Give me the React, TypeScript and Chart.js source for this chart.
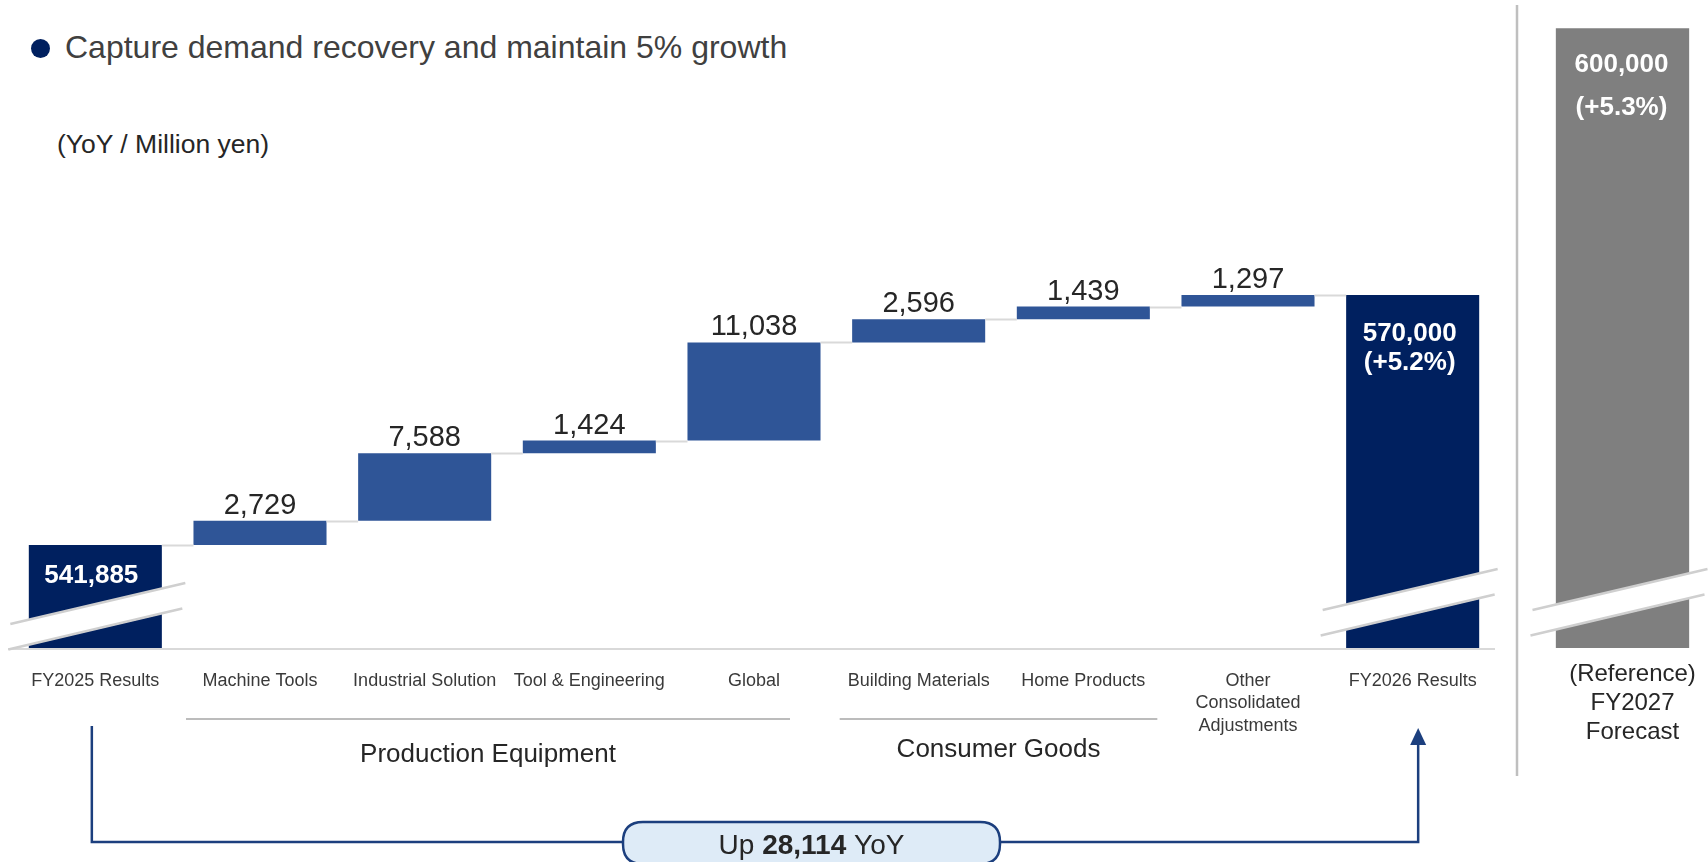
import React, { useEffect, useRef } from "react";
import { Chart, registerables } from "chart.js";

Chart.register(...registerables);

// ---------- data ----------
const categories: string[][] = [
  ["FY2025 Results"],
  ["Machine Tools"],
  ["Industrial Solution"],
  ["Tool & Engineering"],
  ["Global"],
  ["Building Materials"],
  ["Home Products"],
  ["Other", "Consolidated", "Adjustments"],
  ["FY2026 Results"],
];
const startTotal = 541885;
const stepValues = [2729, 7588, 1424, 11038, 2596, 1439, 1297];
const endTotal = 570000;
const endGrowth = "(+5.2%)";
const forecastCategory: string[][] = [["(Reference)", "FY2027", "Forecast"]];
const forecastTotal = 600000;
const forecastGrowth = "(+5.3%)";
const yoyChange = 28114;
const groupNames = ["Production Equipment", "Consumer Goods"];
const groupMembers = [
  [1, 4],
  [5, 6],
];
const axisMin = 530300;
const axisMax = 603174;

// ---------- styles ----------
const FONT = "'Liberation Sans', Arial, Helvetica, sans-serif";
const NAVY = "#00205f";
const STEP_BLUE = "#2f5597";
const GRAY_BAR = "#7f7f7f";
const LINE_GRAY = "#d9d9d9";
const BREAK_GRAY = "#cfcfcf";
const BRACKET = "#1c3f7e";
const TEXT = "#262626";

const fmt = (n: number) => n.toLocaleString("en-US");

function drawBreak(ctx: CanvasRenderingContext2D, cx: number, baseY: number, dx: number, rise: number) {
  const xl = cx + dx;
  const xr = xl + 175;
  const yul = baseY - rise;
  const yur = yul - 41;
  const gap = 25.5;
  ctx.save();
  ctx.fillStyle = "#ffffff";
  ctx.beginPath();
  ctx.moveTo(xl, yul);
  ctx.lineTo(xr, yur);
  ctx.lineTo(xr, yur + gap);
  ctx.lineTo(xl, yul + gap);
  ctx.closePath();
  ctx.fill();
  ctx.strokeStyle = BREAK_GRAY;
  ctx.lineWidth = 2.5;
  ctx.beginPath();
  ctx.moveTo(xl, yul);
  ctx.lineTo(xr, yur);
  ctx.moveTo(xl - 2, yul + gap);
  ctx.lineTo(xr - 3, yur + gap);
  ctx.stroke();
  ctx.restore();
}

function barGeom(el: any) {
  const p = el.getProps(["x", "y", "base", "width"], true);
  return { x: p.x, top: Math.min(p.y, p.base), bottom: Math.max(p.y, p.base), width: p.width };
}

export default function App() {
  const mainRef = useRef<HTMLCanvasElement | null>(null);
  const refRef = useRef<HTMLCanvasElement | null>(null);

  useEffect(() => {
    document.body.style.margin = "0";
    document.body.style.overflow = "hidden";
    Chart.defaults.font.family = FONT;

    const cum: number[] = [startTotal];
    stepValues.forEach((v) => cum.push(cum[cum.length - 1] + v));
    const barData: [number, number][] = [
      [axisMin, startTotal],
      ...stepValues.map((_, i) => [cum[i], cum[i + 1]] as [number, number]),
      [axisMin, endTotal],
    ];
    const colors = barData.map((_, i) => (i === 0 || i === barData.length - 1 ? NAVY : STEP_BLUE));

    const mainPlugin = {
      id: "waterfallDecor",
      afterDatasetsDraw(chart: any) {
        const ctx: CanvasRenderingContext2D = chart.ctx;
        const x = chart.scales.x;
        const y = chart.scales.y;
        const area = chart.chartArea;
        const bars = chart.getDatasetMeta(0).data.map(barGeom);
        const last = bars.length - 1;
        ctx.save();

        // connectors
        ctx.strokeStyle = LINE_GRAY;
        ctx.lineWidth = 2;
        for (let i = 0; i < last; i++) {
          const level = i === last - 1 ? endTotal : cum[i];
          const py = Math.round(y.getPixelForValue(level)) + 0.5;
          ctx.beginPath();
          ctx.moveTo(bars[i].x + bars[i].width / 2, py);
          ctx.lineTo(bars[i + 1].x - bars[i + 1].width / 2, py);
          ctx.stroke();
        }

        // step value labels
        ctx.fillStyle = TEXT;
        ctx.font = `29px ${FONT}`;
        ctx.textAlign = "center";
        ctx.textBaseline = "alphabetic";
        stepValues.forEach((v, i) => {
          const b = bars[i + 1];
          ctx.fillText(fmt(v), b.x, b.top - 7);
        });

        // baseline
        ctx.strokeStyle = LINE_GRAY;
        ctx.lineWidth = 2;
        ctx.beginPath();
        ctx.moveTo(8, area.bottom + 1);
        ctx.lineTo(area.right, area.bottom + 1);
        ctx.stroke();

        // axis breaks
        drawBreak(ctx, bars[0].x, area.bottom, -85, 24);
        drawBreak(ctx, bars[last].x, area.bottom, -90, 38);

        // total labels inside bars
        ctx.fillStyle = "#ffffff";
        ctx.font = `bold 26px ${FONT}`;
        ctx.fillText(fmt(startTotal), bars[0].x - 4, bars[0].top + 38);
        ctx.fillText(fmt(endTotal), bars[last].x - 3, bars[last].top + 46);
        ctx.fillText(endGrowth, bars[last].x - 3, bars[last].top + 75);

        // group underlines + labels
        const groupOffsets = [
          [-74, 36],
          [-79, 74],
        ];
        groupNames.forEach((name, g) => {
          const [a, b] = groupMembers[g];
          const x0 = x.getPixelForValue(a) + groupOffsets[g][0];
          const x1 = x.getPixelForValue(b) + groupOffsets[g][1];
          ctx.strokeStyle = "#a6a6a6";
          ctx.lineWidth = 1.5;
          ctx.beginPath();
          ctx.moveTo(x0, 719);
          ctx.lineTo(x1, 719);
          ctx.stroke();
          ctx.fillStyle = TEXT;
          ctx.font = `26px ${FONT}`;
          ctx.textAlign = "center";
          ctx.fillText(name, (x0 + x1) / 2, g === 0 ? 762 : 757);
        });

        // bracket with arrow
        const lx = bars[0].x - 3.5;
        const rx = bars[last].x + 5.5;
        const hy = 842;
        ctx.strokeStyle = BRACKET;
        ctx.lineWidth = 2.5;
        ctx.beginPath();
        ctx.moveTo(lx, 726);
        ctx.lineTo(lx, hy);
        ctx.lineTo(rx, hy);
        ctx.lineTo(rx, 743);
        ctx.stroke();
        ctx.fillStyle = BRACKET;
        ctx.beginPath();
        ctx.moveTo(rx - 8, 745);
        ctx.lineTo(rx + 8, 745);
        ctx.lineTo(rx, 728);
        ctx.closePath();
        ctx.fill();

        // pill
        const px0 = 623;
        const px1 = 1000;
        const py0 = 822;
        const py1 = 864;
        const r = 20;
        ctx.beginPath();
        ctx.moveTo(px0 + r, py0);
        ctx.lineTo(px1 - r, py0);
        ctx.quadraticCurveTo(px1, py0, px1, py0 + r);
        ctx.lineTo(px1, py1 - r);
        ctx.quadraticCurveTo(px1, py1, px1 - r, py1);
        ctx.lineTo(px0 + r, py1);
        ctx.quadraticCurveTo(px0, py1, px0, py1 - r);
        ctx.lineTo(px0, py0 + r);
        ctx.quadraticCurveTo(px0, py0, px0 + r, py0);
        ctx.closePath();
        ctx.fillStyle = "#deebf7";
        ctx.fill();
        ctx.strokeStyle = BRACKET;
        ctx.lineWidth = 2.5;
        ctx.stroke();

        const parts: [string, string][] = [
          ["Up ", `28px ${FONT}`],
          [fmt(yoyChange), `bold 28px ${FONT}`],
          [" YoY", `28px ${FONT}`],
        ];
        let total = 0;
        parts.forEach(([t, f]) => {
          ctx.font = f;
          total += ctx.measureText(t).width;
        });
        let cx = (px0 + px1) / 2 - total / 2;
        ctx.fillStyle = TEXT;
        ctx.textAlign = "left";
        parts.forEach(([t, f]) => {
          ctx.font = f;
          ctx.fillText(t, cx, 854);
          cx += ctx.measureText(t).width;
        });

        // panel separator
        ctx.strokeStyle = "#bfbfbf";
        ctx.lineWidth = 2.5;
        ctx.beginPath();
        ctx.moveTo(1517, 5);
        ctx.lineTo(1517, 776);
        ctx.stroke();

        ctx.restore();
      },
    };

    const refPlugin = {
      id: "forecastDecor",
      afterDatasetsDraw(chart: any) {
        const ctx: CanvasRenderingContext2D = chart.ctx;
        const area = chart.chartArea;
        const b = barGeom(chart.getDatasetMeta(0).data[0]);
        ctx.save();
        drawBreak(ctx, b.x, area.bottom, -90, 38);
        ctx.fillStyle = "#ffffff";
        ctx.font = `bold 26px ${FONT}`;
        ctx.textAlign = "center";
        ctx.textBaseline = "alphabetic";
        ctx.fillText(fmt(forecastTotal), b.x - 1, b.top + 44);
        ctx.fillText(forecastGrowth, b.x - 1, b.top + 87);
        ctx.restore();
      },
    };

    const baseScales = (tickPadding: number, fontSize: number, lh: number, color: string, labelOffset: number) => ({
      x: {
        grid: { display: false, drawTicks: false },
        border: { display: false },
        ticks: {
          autoSkip: false,
          maxRotation: 0,
          minRotation: 0,
          padding: tickPadding,
          labelOffset,
          color,
          font: { size: fontSize, lineHeight: lh, family: FONT },
        },
        afterFit: (s: any) => {
          s.height = 214;
        },
      },
      y: { display: false, min: axisMin, max: axisMax },
    });

    const main = new Chart(mainRef.current as HTMLCanvasElement, {
      type: "bar",
      data: {
        labels: categories,
        datasets: [
          {
            data: barData as any,
            backgroundColor: colors,
            borderWidth: 0,
            barPercentage: 0.808,
            categoryPercentage: 1,
          },
        ],
      },
      options: {
        responsive: true,
        maintainAspectRatio: false,
        animation: false,
        layout: { padding: { left: 13, right: 213, top: 0, bottom: 0 } },
        plugins: { legend: { display: false }, tooltip: { enabled: false }, title: { display: false } },
        scales: baseScales(21.5, 18, 1.25, "#3a3a3a", 0) as any,
      },
      plugins: [mainPlugin],
    });

    const ref = new Chart(refRef.current as HTMLCanvasElement, {
      type: "bar",
      data: {
        labels: forecastCategory,
        datasets: [
          {
            data: [[axisMin, forecastTotal]] as any,
            backgroundColor: GRAY_BAR,
            borderWidth: 0,
            barPercentage: 0.808,
            categoryPercentage: 1,
          },
        ],
      },
      options: {
        responsive: true,
        maintainAspectRatio: false,
        animation: false,
        layout: { padding: { left: 1540, right: 3, top: 0, bottom: 0 } },
        plugins: { legend: { display: false }, tooltip: { enabled: false }, title: { display: false } },
        scales: baseScales(11.5, 24, 29 / 24, TEXT, 10) as any,
      },
      plugins: [refPlugin],
    });

    return () => {
      main.destroy();
      ref.destroy();
    };
  }, []);

  const layer: React.CSSProperties = { position: "absolute", left: 0, top: 0, width: 1708, height: 862 };

  return (
    <div style={{ position: "relative", width: 1708, height: 862, overflow: "hidden", background: "#ffffff", fontFamily: FONT }}>
      <div
        style={{
          position: "absolute",
          left: 30.5,
          top: 38.5,
          width: 19,
          height: 19,
          borderRadius: "50%",
          background: NAVY,
        }}
      />
      <div
        style={{
          position: "absolute",
          left: 65,
          top: 31,
          fontSize: 32,
          lineHeight: "32px",
          color: "#404040",
          whiteSpace: "nowrap",
        }}
      >
        Capture demand recovery and maintain 5% growth
      </div>
      <div
        style={{
          position: "absolute",
          left: 57,
          top: 130.5,
          fontSize: 26.5,
          lineHeight: "26.5px",
          color: TEXT,
          whiteSpace: "nowrap",
        }}
      >
        (YoY / Million yen)
      </div>
      <div style={layer}>
        <canvas ref={mainRef} />
      </div>
      <div style={layer}>
        <canvas ref={refRef} />
      </div>
    </div>
  );
}
